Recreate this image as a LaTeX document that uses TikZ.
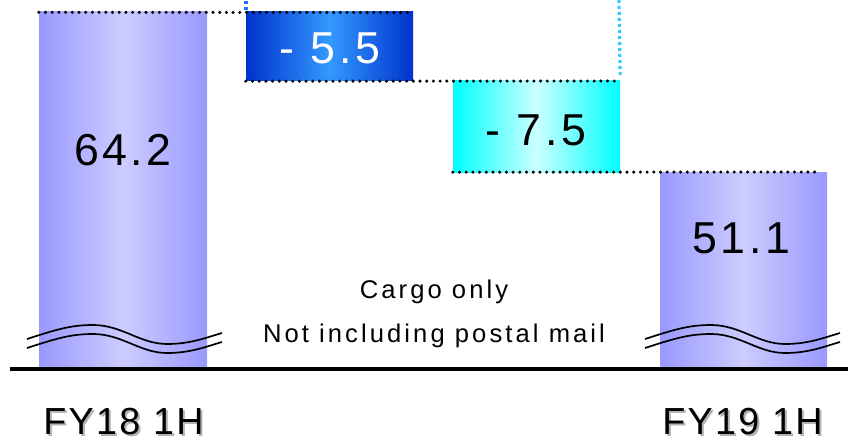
\documentclass[tikz,border=0pt]{standalone}
\usepackage{fontspec}
\usetikzlibrary{decorations.markings}
\setmainfont{Liberation Sans}
\newfontfamily\valfont[LetterSpace=8]{Liberation Sans}
\newfontfamily\notefont[LetterSpace=12]{Liberation Sans}
\newfontfamily\catfont[LetterSpace=6]{Liberation Sans}

\definecolor{barEdge}{RGB}{153,153,255}
\definecolor{barMid}{RGB}{204,204,255}
\definecolor{dropEdge}{RGB}{0,51,204}
\definecolor{dropMid}{RGB}{51,153,255}
\definecolor{cyanEdge}{RGB}{0,255,255}
\definecolor{cyanMid}{RGB}{204,255,255}
\definecolor{guideBlue}{RGB}{30,110,255}
\definecolor{guideCyan}{RGB}{51,204,255}

% text with a soft drop shadow, set in one box
\newcommand{\shadowtext}[1]{%
  \makebox[0pt][l]{\hspace{2pt}\raisebox{-2pt}{\textcolor{black!30}{#1}}}#1}

\tikzset{
  barbox/.style={rectangle, inner sep=0pt, draw=none,
    left color=barEdge, right color=barEdge, middle color=barMid},
  dropbox/.style={rectangle, inner sep=0pt, draw=none,
    left color=dropEdge, right color=dropEdge, middle color=dropMid},
  cyanbox/.style={rectangle, inner sep=0pt, draw=none,
    left color=cyanEdge, right color=cyanEdge, middle color=cyanMid},
  vallabel/.style={anchor=base, inner sep=0pt,
    font=\valfont\fontsize{44.7}{50}\selectfont},
  notelabel/.style={anchor=base, inner sep=0pt,
    font=\notefont\fontsize{25.6}{30}\selectfont},
  catlabel/.style={anchor=base, inner sep=0pt, text depth=0pt,
    font=\catfont\fontsize{37.7}{42}\selectfont},
  % round dots along a path
  levelline/.style={draw=none, decoration={markings,
      mark=between positions 0 and 1 step 6.7pt with {\fill[black] (0,0) circle (1.7pt);}},
    postaction=decorate},
  % small square dots along a path
  guideline/.style={draw=none, decoration={markings,
      mark=between positions 0 and 1 step 6pt with {\fill[#1] (-1.5pt,-1.6pt) rectangle (1.5pt,1.6pt);}},
    postaction=decorate},
  breakline/.style={line width=1.7pt},
}

\begin{document}
\begin{tikzpicture}[x=1pt, y=-1pt]
  \useasboundingbox (0,0) rectangle (848,441);

  % bars and steps
  \node[barbox, minimum width=168pt, minimum height=355pt] (fy18) at (123,189.5) {};
  \node[dropbox, minimum width=167pt, minimum height=69pt] (drop1) at (329.5,46.5) {};
  \node[cyanbox, minimum width=167pt, minimum height=91pt] (drop2) at (536.5,126.5) {};
  \node[barbox, minimum width=167pt, minimum height=195pt] (fy19) at (743.5,269.5) {};

  % guide marks at the top
  \coordinate (gb1) at (246,3);
  \coordinate (gb2) at (246,10);
  \path[guideline=guideBlue] (gb1) -- (gb2);
  \coordinate (gc1) at (619,1.5);
  \path[guideline=guideCyan] (gc1) -- ([yshift=1.5pt]drop2.north east);

  % dotted level lines
  \coordinate (l1e) at (410,12.5);
  \path[levelline] ([yshift=-0.5pt]fy18.north west) -- (l1e);
  \coordinate (l2e) at (619,81);
  \path[levelline] (drop1.south west) -- (l2e);
  \coordinate (l3e) at (821,172);
  \path[levelline] (drop2.south west) -- (l3e);

  % values
  \node[vallabel] (v1) at (123,165) {64.2};
  \node[vallabel, text=white] (v2) at (330,64) {- 5.5};
  \node[vallabel] (v3) at (536,145) {- 7.5};
  \node[vallabel] (v4) at (741,253) {51.1};

  % note
  \node[notelabel] (n1) at (434,298) {Cargo only};
  \node[notelabel] (n2) at (434,342) {Not including postal mail};

  % axis break marks
  \foreach \dx in {0,618} {
    \foreach \dy in {0,9} {
      \begin{scope}[shift={(\dx,\dy)}]
        \draw[breakline] (27,339) .. controls (55,330) and (70,325) .. (93,325)
          .. controls (122,325) and (140,344) .. (167,344)
          .. controls (190,344) and (205,338) .. (222,333);
      \end{scope}
    }
  }

  % baseline
  \coordinate (ax1) at (10,368.5);
  \coordinate (ax2) at (848,368.5);
  \draw[line width=4pt] (ax1) -- (ax2);

  % category labels
  \node[catlabel] (c1) at (123.5,434) {\shadowtext{FY18 1H}};
  \node[catlabel] (c2) at (742.5,434) {\shadowtext{FY19 1H}};
\end{tikzpicture}
\end{document}
